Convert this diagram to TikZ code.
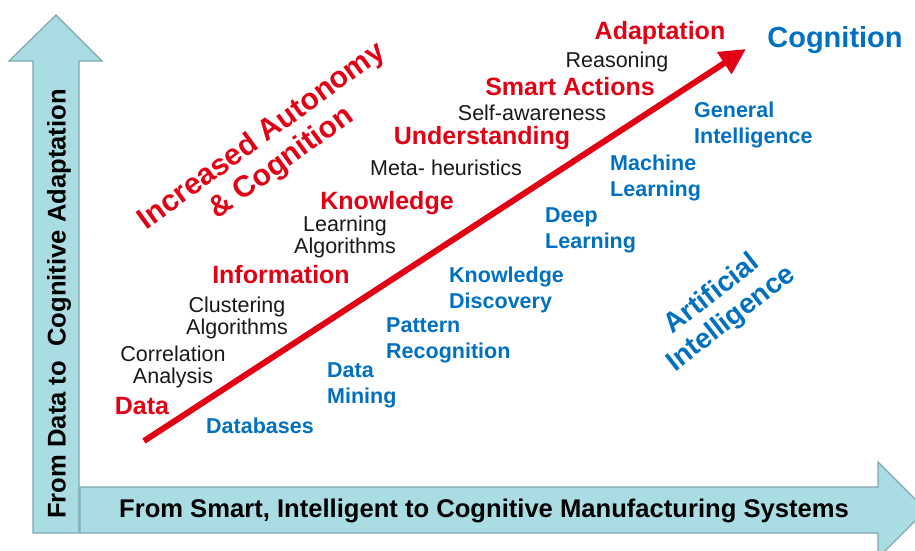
\documentclass[tikz,border=0pt]{standalone}
\usepackage{fontspec}
\setmainfont{Liberation Sans}
\usetikzlibrary{arrows.meta, positioning}
\definecolor{axisfill}{RGB}{170,221,227}
\definecolor{axisline}{RGB}{125,168,174}
\definecolor{stepred}{RGB}{226,0,20}
\definecolor{aiblue}{RGB}{0,112,192}
\definecolor{smalltxt}{RGB}{25,25,25}

\begin{document}
\begin{tikzpicture}[x=1pt, y=-1pt,
    axisarrow/.style={fill=axisfill, draw=axisline, line width=1.2pt, line join=miter},
    level/.style={text=stepred, font=\fontsize{25}{27}\selectfont\bfseries, inner sep=0pt},
    method/.style={text=smalltxt, font=\fontsize{21.5}{22}\selectfont, align=center, inner sep=0pt},
    field/.style={text=aiblue, font=\fontsize{21.5}{26}\selectfont\bfseries, align=left, anchor=west, inner sep=0pt},
    axislabel/.style={text=black, font=\fontsize{25.6}{27}\selectfont\bfseries, inner sep=0pt}]

    \useasboundingbox (0,0) rectangle (915,551);
    \begin{scope}
    \clip (0,0) rectangle (915,551);
    % the two block arrows
    \draw[axisarrow] (33,533) -- (33,61) -- (9,61) -- (56,15) -- (102,61) -- (79,61) -- (79,533) -- cycle;
    \draw[axisarrow] (80,487) -- (878,487) -- (878,462) -- (926,510) -- (878,558) -- (878,533) -- (80,533) -- cycle;
    \end{scope}

    \node[axislabel, rotate=90] (ylab) at (59,304) {From Data to \ Cognitive Adaptation};
    \node[axislabel] (xlab) at (484,511) {From Smart, Intelligent to Cognitive Manufacturing Systems};

    % the red growth arrow
    \coordinate (start) at (144,441);
    \coordinate (finish) at (746,49);
    \draw[stepred, line width=6pt, -{Triangle[length=26pt, width=25pt]}] (start) -- (finish);

    % levels along the arrow
    \node[level] (adapt) at (660,33) {Adaptation};
    \node[method] (reason) at (617,62) {Reasoning};
    \node[level] (smart) at (570,87) {Smart Actions};
    \node[method] (selfaw) at (532,113) {Self-awareness};
    \node[level] (underst) at (482,138) {Understanding};
    \node[method] (meta) at (446,168) {Meta- heuristics};
    \node[level] (knowl) at (387,203) {Knowledge};
    \node[method] (learnalg) at (345,237) {Learning\\Algorithms};
    \node[level] (inform) at (281,275) {Information};
    \node[method] (clust) at (237,318) {Clustering\\Algorithms};
    \node[method] (corr) at (173,367) {Correlation\\Analysis};
    \node[level] (data) at (142,406) {Data};

    % fields below the arrow
    \node[field, anchor=center] (dbase) at (260,426) {Databases};
    \node[field] (mining) at (327,385) {Data\\Mining};
    \node[field] (pattern) at (386,340) {Pattern\\Recognition};
    \node[field] (discov) at (449,290) {Knowledge\\Discovery};
    \node[field] (deep) at (545,230) {Deep\\Learning};
    \node[field] (machine) at (610,178) {Machine\\Learning};
    \node[field] (general) at (694,125) {General\\Intelligence};
    \node[text=aiblue, font=\fontsize{29}{31}\selectfont\bfseries, inner sep=0pt] (cogn) at (835,40) {Cognition};

    % slanted captions
    \node[text=stepred, font=\fontsize{30}{33}\selectfont\bfseries, align=center, rotate=36, inner sep=0pt] (autonomy) at (272,150) {Increased Autonomy\\\& Cognition};
    \node[text=aiblue, font=\fontsize{28}{31}\selectfont\bfseries, align=center, rotate=38, inner sep=0pt] (ai) at (722,307) {Artificial\\Intelligence};
\end{tikzpicture}
\end{document}
